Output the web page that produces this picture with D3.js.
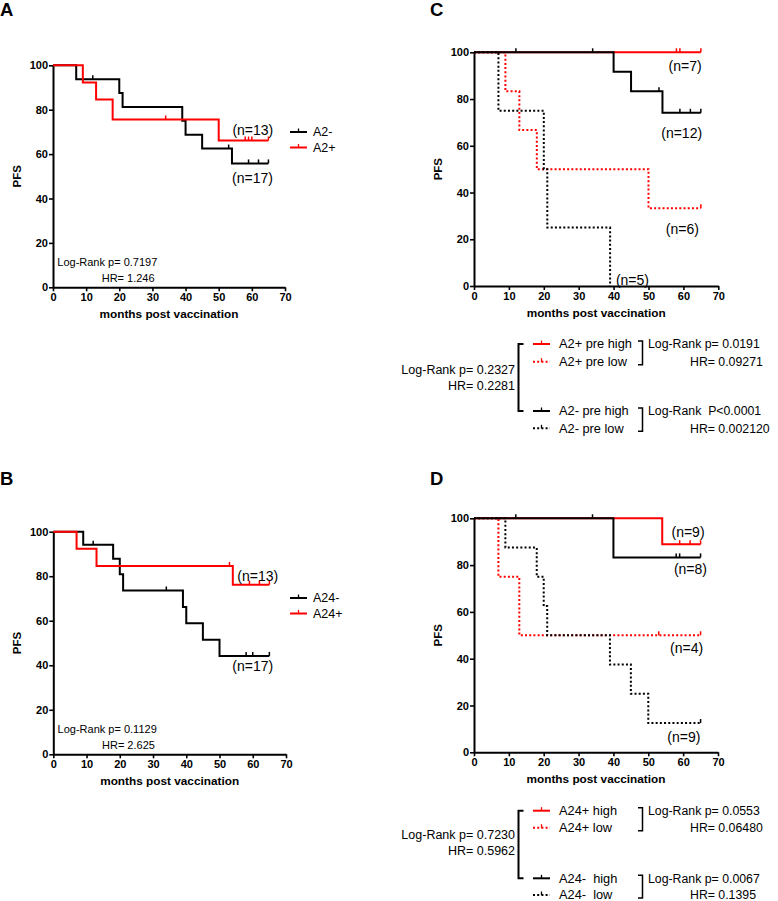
<!DOCTYPE html>
<html><head><meta charset="utf-8">
<script src="https://cdn.jsdelivr.net/npm/d3@7"></script>
<style>body{margin:0;background:#fff} svg{display:block;font-family:"Liberation Sans",Arial,sans-serif}</style>
</head><body><svg id="c" width="778" height="901"></svg>
<script>
// ---------------- data ----------------
const xTicks = [0, 10, 20, 30, 40, 50, 60, 70];
const yTicks = [0, 20, 40, 60, 80, 100];
const xTitle = "months post vaccination";
const yTitle = "PFS";

// Panel A
const A_neg_time = [0, 7, 20, 21, 39, 40, 45, 54, 65];
const A_neg_surv = [100, 93.75, 87.5, 81.25, 75, 68.75, 62.5, 55.8, 55.8];
const A_neg_cens = [12, 53, 59, 62, 65];
const A_pos_time = [0, 9, 13, 18, 50, 65];
const A_pos_surv = [100, 92.3, 84.6, 75.6, 66.1, 66.1];
const A_pos_cens = [34, 58, 59, 60, 65];

// Panel B
const B_neg_time = [0, 9, 18, 20, 21, 39, 40, 45, 50, 65];
const B_neg_surv = [100, 94.1, 87.9, 80.9, 73.6, 66.2, 58.9, 51.5, 44.2, 44.2];
const B_neg_cens = [12, 34, 58, 60, 65];
const B_pos_time = [0, 7, 13, 54, 65];
const B_pos_surv = [100, 92.3, 84.6, 76.2, 76.2];
const B_pos_cens = [53, 59, 62, 65];

// Panel C
const C_posHigh_time = [0, 65];
const C_posHigh_surv = [100, 100];
const C_posHigh_cens = [58, 59, 65];
const C_posLow_time = [0, 9, 13, 18, 50, 65];
const C_posLow_surv = [100, 83.3, 66.7, 50, 33.3, 33.3];
const C_posLow_cens = [65];
const C_negHigh_time = [0, 40, 45, 54, 65];
const C_negHigh_surv = [100, 91.7, 83.3, 74.1, 74.1];
const C_negHigh_cens = [12, 34, 53, 59, 62, 65];
const C_negLow_time = [0, 7, 20, 21, 39];
const C_negLow_surv = [100, 75, 50, 25, 0];
const C_negLow_cens = [];

// Panel D
const D_posHigh_time = [0, 54, 65];
const D_posHigh_surv = [100, 88.9, 88.9];
const D_posHigh_cens = [59, 62, 65];
const D_posLow_time = [0, 7, 13, 65];
const D_posLow_surv = [100, 75, 50, 50];
const D_posLow_cens = [53, 65];
const D_negHigh_time = [0, 40, 65];
const D_negHigh_surv = [100, 83.3, 83.3];
const D_negHigh_cens = [12, 34, 58, 59, 65];
const D_negLow_time = [0, 9, 18, 20, 21, 39, 45, 50, 65];
const D_negLow_surv = [100, 87.5, 75, 62.5, 50, 37.5, 25, 12.5, 12.5];
const D_negLow_cens = [65];

// ---------------- drawing ----------------
const svg = d3.select("#c");
const RED = "#ff0000", BLK = "#000000";
const NB = "\u00a0";

function ser(time, surv, cens, color, dotted) { return {time, surv, cens, color, dotted}; }

const panels = [
  {letter: "A", lx: 0, ly: 16, x0: 53, x1: 285, yTop: 65.3, yBot: 287.3,
   series: [ser(A_neg_time, A_neg_surv, A_neg_cens, BLK, false), ser(A_pos_time, A_pos_surv, A_pos_cens, RED, false)],
   nLabels: [["(n=13)", 60.3, 70.8], ["(n=17)", 60.2, 49.3]],
   stats: ["Log-Rank p= 0.7197", "HR= 1.246"], statY: 262,
   legend: [["A2-", BLK], ["A2+", RED]], legY: 132},
  {letter: "B", lx: 0, ly: 485, x0: 53.3, x1: 286, yTop: 531.7, yBot: 754.3,
   series: [ser(B_neg_time, B_neg_surv, B_neg_cens, BLK, false), ser(B_pos_time, B_pos_surv, B_pos_cens, RED, false)],
   nLabels: [["(n=13)", 61.5, 80.1], ["(n=17)", 60, 39.4]],
   stats: ["Log-Rank p= 0.1129", "HR= 2.625"], statY: 729.3,
   legend: [["A24-", BLK], ["A24+", RED]], legY: 598},
  {letter: "C", lx: 430, ly: 16, x0: 474, x1: 718.3, yTop: 52.3, yBot: 286,
   series: [ser(C_posHigh_time, C_posHigh_surv, C_posHigh_cens, RED, false), ser(C_posLow_time, C_posLow_surv, C_posLow_cens, RED, true),
            ser(C_negHigh_time, C_negHigh_surv, C_negHigh_cens, BLK, false), ser(C_negLow_time, C_negLow_surv, C_negLow_cens, BLK, true)],
   nLabels: [["(n=7)", 60.5, 94], ["(n=12)", 59.5, 65.5], ["(n=6)", 59.7, 24.4], ["(n=5)", 45.4, 2.6]],
   bigLegend: {rows: [344, 361.7, 411, 428.3],
     items: [["A2+ pre high", RED, false], ["A2+ pre low", RED, true], ["A2- pre high", BLK, false], ["A2- pre low", BLK, true]],
     left: ["Log-Rank p= 0.2327", "HR= 0.2281"], leftY: [369.3, 386],
     right: [["Log-Rank p= 0.0191", "HR= 0.09271"], ["Log-Rank" + NB + NB + "P<0.0001", "HR= 0.002120"]]}},
  {letter: "D", lx: 430, ly: 485, x0: 474, x1: 718, yTop: 518.3, yBot: 752.3,
   series: [ser(D_posHigh_time, D_posHigh_surv, D_posHigh_cens, RED, false), ser(D_posLow_time, D_posLow_surv, D_posLow_cens, RED, true),
            ser(D_negHigh_time, D_negHigh_surv, D_negHigh_cens, BLK, false), ser(D_negLow_time, D_negLow_surv, D_negLow_cens, BLK, true)],
   nLabels: [["(n=9)", 61.4, 94.3], ["(n=8)", 62.1, 78.2], ["(n=4)", 61, 44.4], ["(n=9)", 60.2, 6.7]],
   bigLegend: {rows: [810.7, 827.7, 878.3, 895],
     items: [["A24+ high", RED, false], ["A24+ low", RED, true], ["A24-" + NB + NB + "high", BLK, false], ["A24-" + NB + NB + "low", BLK, true]],
     left: ["Log-Rank p= 0.7230", "HR= 0.5962"], leftY: [835, 850.7],
     right: [["Log-Rank p= 0.0553", "HR= 0.06480"], ["Log-Rank p= 0.0067", "HR= 0.1395"]]}}
];

function legendMark(g, x, y, color, dotted) {
  g.append("line").attr("x1", x).attr("x2", x + 17).attr("y1", y).attr("y2", y)
    .attr("stroke", color).attr("stroke-width", 2).attr("stroke-dasharray", dotted ? "2,2.2" : null);
  g.append("line").attr("x1", x + 8.5).attr("x2", x + 8.5).attr("y1", y).attr("y2", y - 3.5)
    .attr("stroke", color).attr("stroke-width", 1.3);
}

panels.forEach(p => {
  const g = svg.append("g");
  const x = d3.scaleLinear().domain([0, 70]).range([p.x0, p.x1]);
  const y = d3.scaleLinear().domain([0, 100]).range([p.yBot, p.yTop]);

  g.append("text").attr("x", p.lx).attr("y", p.ly).text(p.letter)
    .attr("font-size", 18.5).attr("font-weight", "bold");

  // axes
  const ax = g.append("g").attr("transform", `translate(0,${p.yBot})`)
    .call(d3.axisBottom(x).tickValues(xTicks).tickSize(4).tickSizeOuter(0).tickPadding(2));
  const ay = g.append("g").attr("transform", `translate(${p.x0},0)`)
    .call(d3.axisLeft(y).tickValues(yTicks).tickSize(4).tickSizeOuter(0).tickPadding(1));
  [ax, ay].forEach(a => {
    a.select(".domain").attr("stroke-width", 2);
    a.selectAll(".tick line").attr("stroke-width", 1.6);
    a.selectAll(".tick text").attr("font-size", 11).attr("font-weight", "bold")
      .attr("font-family", "'Liberation Sans',Arial,sans-serif").attr("fill", "#000");
  });

  g.append("text").attr("x", (p.x0 + p.x1) / 2).attr("y", p.yBot + 27).attr("dy", "0.35em")
    .attr("text-anchor", "middle").attr("font-size", 11.8).attr("font-weight", "bold").text(xTitle);
  g.append("text").attr("transform", `translate(${p.x0 - 36},${(p.yTop + p.yBot) / 2}) rotate(-90)`)
    .attr("dy", "0.35em").attr("text-anchor", "middle").attr("font-size", 11.5).attr("font-weight", "bold").text(yTitle);

  // curves
  const line = d3.line().x(d => x(d[0])).y(d => y(d[1])).curve(d3.curveStepAfter);
  p.series.forEach(s => {
    const pts = s.time.map((t, i) => [t, s.surv[i]]);
    g.append("path").attr("d", line(pts)).attr("fill", "none").attr("stroke", s.color)
      .attr("stroke-width", 2).attr("stroke-dasharray", s.dotted ? "2,2.2" : null);
    s.cens.forEach(c => {
      const v = s.surv[Math.max(0, d3.bisectRight(s.time, c) - 1)];
      g.append("line").attr("x1", x(c)).attr("x2", x(c)).attr("y1", y(v)).attr("y2", y(v) - 4)
        .attr("stroke", s.color).attr("stroke-width", 1.5);
    });
  });

  p.nLabels.forEach(n => {
    g.append("text").attr("x", x(n[1])).attr("y", y(n[2])).attr("dy", "0.35em")
      .attr("text-anchor", "middle").attr("font-size", 14).text(n[0]);
  });

  if (p.stats) {
    g.append("text").attr("x", p.x0 + 4.3).attr("y", p.statY).attr("dy", "0.35em").attr("font-size", 11).text(p.stats[0]);
    g.append("text").attr("x", p.x0 + 48.7).attr("y", p.statY + 15.7).attr("dy", "0.35em").attr("font-size", 11).text(p.stats[1]);
    p.legend.forEach((l, i) => {
      const yy = p.legY + i * 15.5;
      legendMark(g, 290, yy, l[1], false);
      g.append("text").attr("x", 313).attr("y", yy).attr("dy", "0.35em").attr("font-size", 12.5).text(l[0]);
    });
  }

  if (p.bigLegend) {
    const L = p.bigLegend, r = L.rows;
    L.items.forEach((it, i) => {
      legendMark(g, 533, r[i], it[1], it[2]);
      g.append("text").attr("x", 559).attr("y", r[i]).attr("dy", "0.35em").attr("font-size", 12.8).text(it[0]);
    });
    // big bracket
    g.append("path").attr("d", `M523.5,${r[0]} H518.5 V${r[2]} H523.5`).attr("fill", "none")
      .attr("stroke", "#000").attr("stroke-width", 2);
    L.left.forEach((t, i) => g.append("text").attr("x", 515).attr("y", L.leftY[i]).attr("dy", "0.35em")
      .attr("text-anchor", "end").attr("font-size", 12.5).text(t));
    // small brackets
    [[r[0], r[1]], [r[2], r[3]]].forEach((pr, k) => {
      g.append("path").attr("d", `M638,${pr[0] - 3} H642.5 V${pr[1] + 3} H638`).attr("fill", "none")
        .attr("stroke", "#000").attr("stroke-width", 1.5);
      g.append("text").attr("x", 648).attr("y", pr[0]).attr("dy", "0.35em").attr("font-size", 12.3).text(L.right[k][0]);
      g.append("text").attr("x", 690).attr("y", pr[1]).attr("dy", "0.35em").attr("font-size", 12.3).text(L.right[k][1]);
    });
  }
});
</script></body></html>
